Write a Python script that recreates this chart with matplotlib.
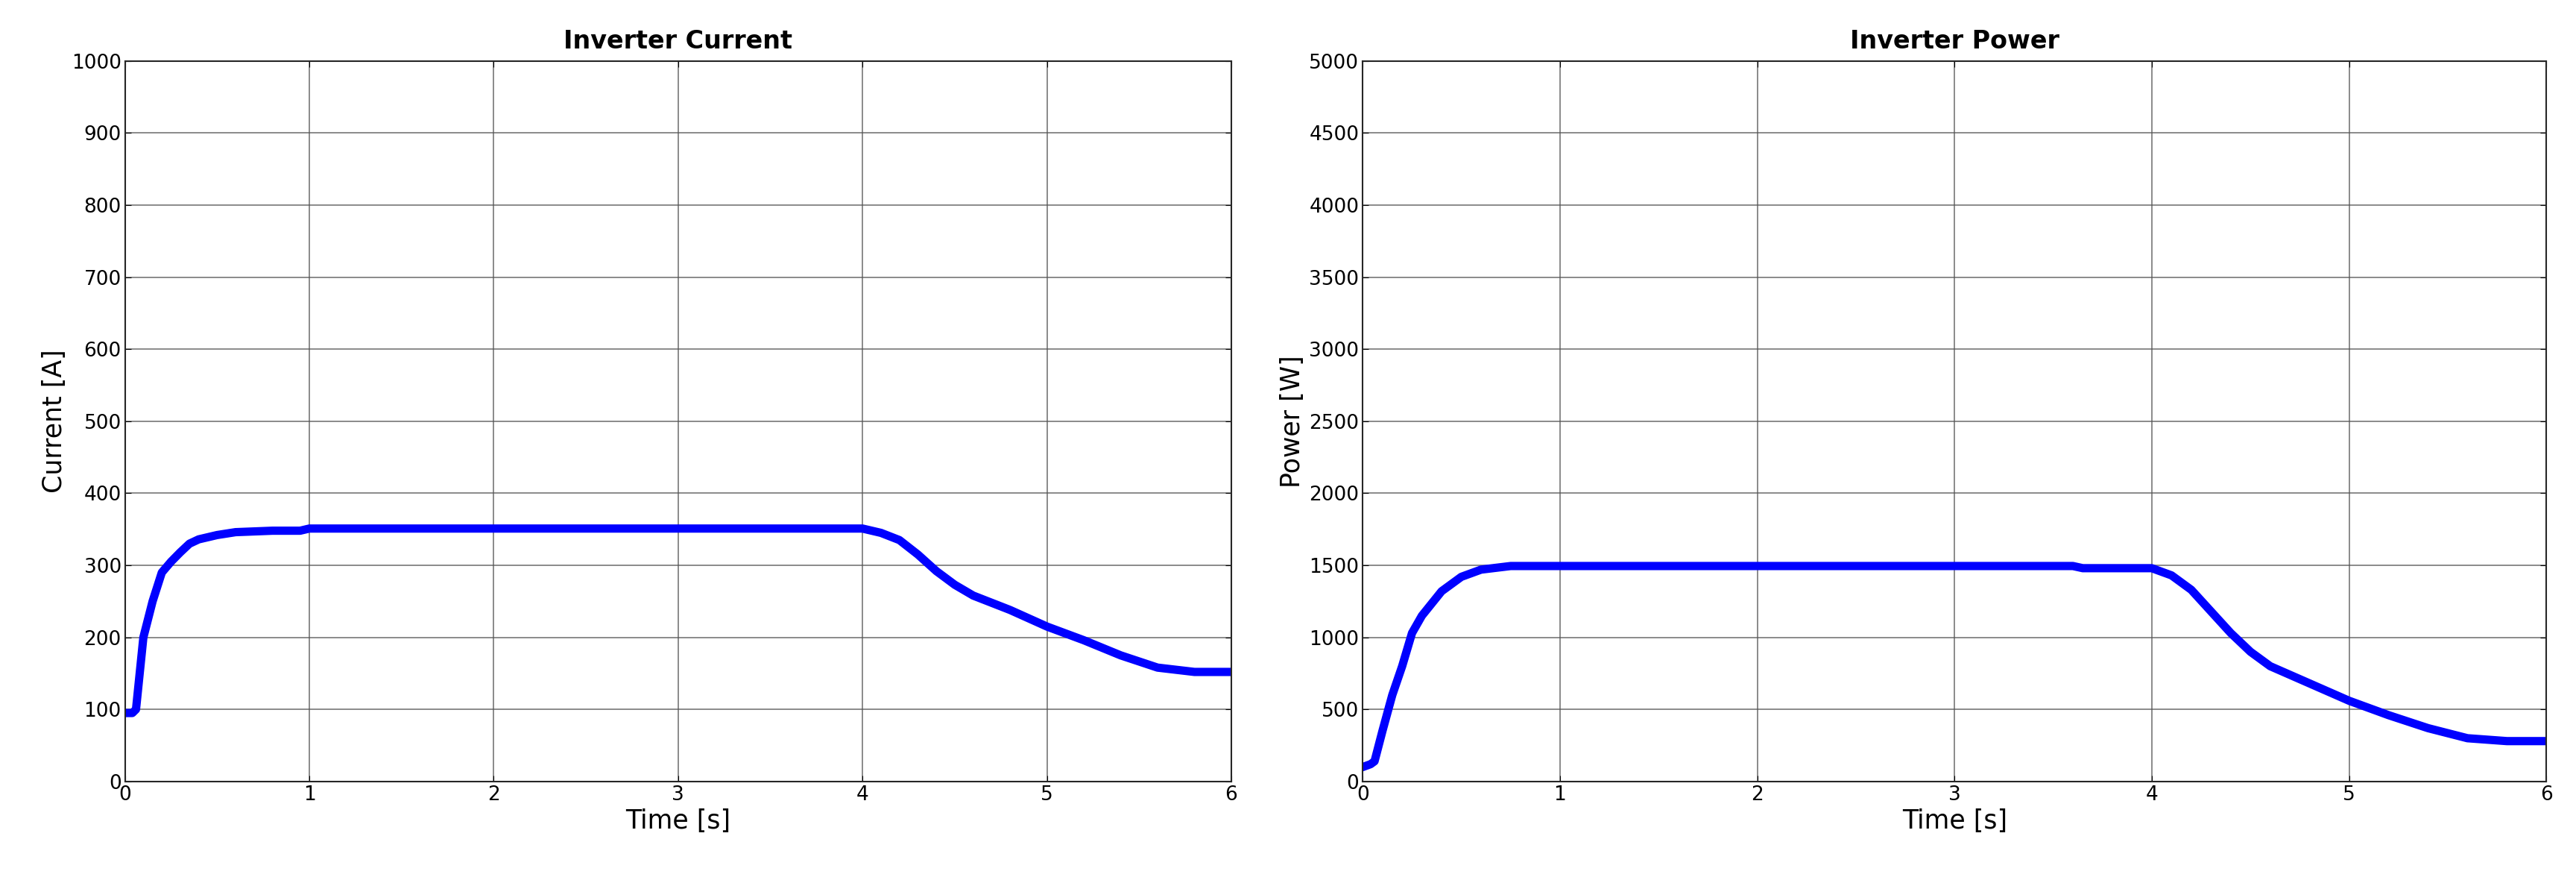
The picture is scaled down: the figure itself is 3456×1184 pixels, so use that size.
import matplotlib
matplotlib.use("Agg")
import matplotlib.pyplot as plt

t_cur = [0, 0.04, 0.06, 0.1, 0.15, 0.2, 0.25, 0.3, 0.35, 0.4, 0.5, 0.6, 0.8, 0.95, 1.0, 4.0, 4.1, 4.2, 4.3, 4.4, 4.5, 4.6, 4.8, 5.0, 5.2, 5.4, 5.6, 5.8, 6.0]
current = [95, 95, 100, 200, 250, 290, 305, 318, 330, 336, 342, 346, 348, 348, 351, 351, 345, 335, 315, 292, 273, 258, 238, 215, 196, 175, 158, 152, 152]
t_pow = [0, 0.04, 0.06, 0.1, 0.15, 0.2, 0.25, 0.3, 0.4, 0.5, 0.6, 0.75, 3.6, 3.65, 4.0, 4.1, 4.2, 4.3, 4.4, 4.5, 4.6, 4.8, 5.0, 5.2, 5.4, 5.6, 5.8, 6.0]
power = [100, 120, 140, 350, 600, 800, 1030, 1150, 1320, 1420, 1470, 1495, 1495, 1480, 1480, 1430, 1330, 1180, 1030, 900, 800, 680, 560, 460, 370, 300, 280, 280]

fig = plt.figure(figsize=(34.56, 11.84), dpi=100)
ax1 = fig.add_axes([0.0485, 0.115, 0.4295, 0.816])
ax2 = fig.add_axes([0.529, 0.115, 0.4595, 0.816])

def style(ax, title, ylabel, ymax, ystep):
    ax.set_xlim(0, 6)
    ax.set_ylim(0, ymax)
    ax.set_xticks(range(0, 7))
    ax.set_yticks(range(0, ymax + 1, ystep))
    ax.grid(True, color="#555555", linewidth=1.2, alpha=0.8)
    ax.tick_params(labelsize=19, direction="in", length=6, top=True, right=True)
    for s in ax.spines.values():
        s.set_linewidth(1.5)
        s.set_color("#262626")
    ax.set_title(title, fontsize=24, fontweight="bold", pad=12)
    ax.set_xlabel("Time [s]", fontsize=25)
    ax.set_ylabel(ylabel, fontsize=25, labelpad=4)

ax1.plot(t_cur, current, color="#0000ff", linewidth=8)
style(ax1, "Inverter Current", "Current [A]", 1000, 100)
ax2.plot(t_pow, power, color="#0000ff", linewidth=8)
style(ax2, "Inverter Power", "Power [W]", 5000, 500)

fig.savefig("out.png", dpi=100)
